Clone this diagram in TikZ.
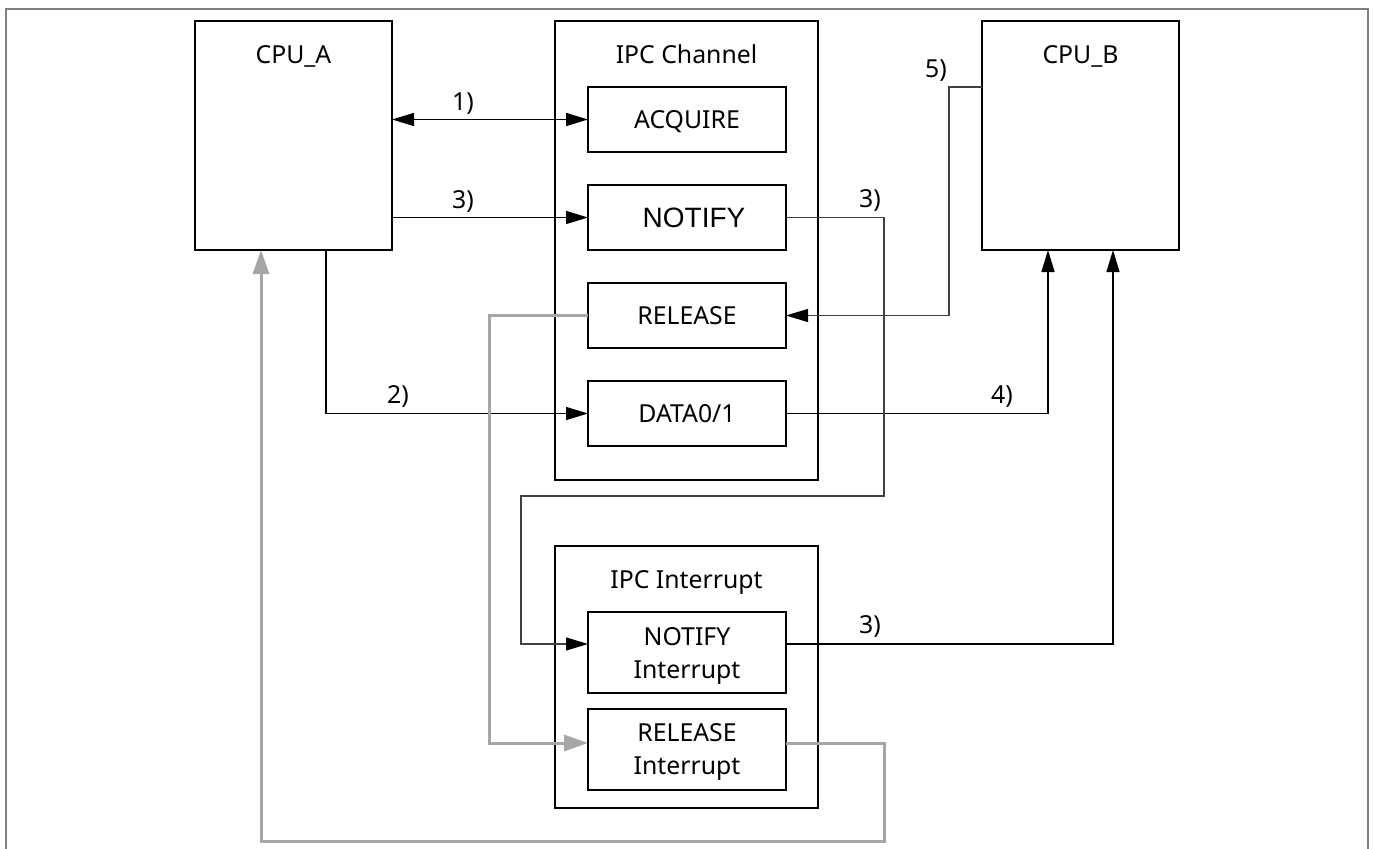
\documentclass[tikz,border=0pt]{standalone}
\usepackage{fontspec}
\setmainfont{Noto Sans}
\newfontfamily\arialfont{Liberation Sans}
\usetikzlibrary{positioning,arrows.meta,calc}
\definecolor{framegray}{HTML}{808080}
\definecolor{wiregray}{HTML}{A6A6A6}
\definecolor{darkwire}{HTML}{404040}

\begin{document}
\begin{tikzpicture}[x=0.5pt,y=-0.5pt,>={Triangle[length=11pt,width=6.5pt]},
  font=\fontsize{12.4}{16.5}\selectfont,
  every node/.style={inner sep=0pt,outer sep=0pt},
  cpu/.style={draw,line width=1pt,minimum width=98.5pt,minimum height=114.5pt},
  block/.style={draw,line width=1pt,minimum width=131.5pt},
  reg/.style={draw,line width=0.7pt,minimum width=99pt,minimum height=32.5pt,
    text depth=0pt,align=center},
  title/.style={anchor=base},
  tag/.style={anchor=base},
  wire/.style={line width=0.7pt},
  thin wire/.style={line width=0.6pt,draw=darkwire,>={Triangle[length=11pt,width=6.5pt,color=black]}},
  grey wire/.style={line width=1.5pt,draw=wiregray,>={Triangle[length=12pt,width=8pt]}}]
  \useasboundingbox (0,0) rectangle (1373,848);
  \draw[framegray,line width=1pt] (6,852) |- (1368,9) -- (1368,852);

  \node[cpu] (cpua) at (293.5,135.5) {};
  \node[cpu] (cpub) at (1080.5,135.5) {};
  \node[block,minimum height=229.5pt] (chan) at (686.5,250.5) {};
  \node[block,minimum height=131pt] (intr) at (686.5,677) {};
  \node[title] (cpua-t) at ($(cpua.north)+(0,42)$) {CPU\_A};
  \node[title] (cpub-t) at ($(cpub.north)+(0,42)$) {CPU\_B};
  \node[title] (chan-t) at ($(chan.north)+(0,42)$) {IPC Channel};
  \node[title] (intr-t) at ($(intr.north)+(0,42)$) {IPC Interrupt};

  \node[reg] (acq) at (687,119.5) {ACQUIRE};
  \node[reg,below=16.5pt of acq,font=\arialfont\fontsize{14}{16}\selectfont] (ntf) {\hspace*{7pt}NOTIFY};
  \node[reg,below=16.5pt of ntf] (rel) {RELEASE};
  \node[reg,below=16.5pt of rel] (dat) {DATA0/1};
  \node[reg,minimum height=40.5pt] (nint) at (687,652.5) {NOTIFY\\Interrupt};
  \node[reg,minimum height=40.5pt,below=8pt of nint] (rint) {RELEASE\\Interrupt};

  \node[tag] (t1) at (463,110) {1)};
  \node[tag] (t2) at (398,403) {2)};
  \node[tag] (t3a) at (463,208) {3)};
  \node[tag] (t3b) at (870,207) {3)};
  \node[tag] (t3c) at (870,633) {3)};
  \node[tag] (t4) at (1002,403) {4)};
  \node[tag] (t5) at (936,77) {5)};

  \coordinate (nint-in) at ($(nint.west)+(0,-8.5)$);
  \coordinate (nint-out) at ($(nint.east)+(0,-8.5)$);
  \coordinate (rint-in) at ($(rint.west)+(0,-6.5)$);
  \coordinate (rint-out) at ($(rint.east)+(0,-6.5)$);

  \draw[wire,<->] (cpua.east |- acq.west) -- (acq.west);
  \draw[wire,->] (cpua.east |- ntf.west) -- (ntf.west);
  \draw[wire,->] ($(cpua.south)+(32.5,0)$) |- (dat.west);
  \draw[wire,->] (dat.east) -| ($(cpub.south)+(-32.5,0)$);
  \draw[wire,->] (nint-out) -| ($(cpub.south)+(32.5,0)$);
  \draw[thin wire,->] ($(cpub.west)+(0,-48.5)$) -| ($(rel.east)+(163,0)$) -- (rel.east);
  \draw[thin wire,->] (ntf.east) -| (884,496) -| (521,644) -- (nint-in);
  \draw[grey wire,->] (rel.west) -- ++(-99,0) |- (rint-in);
  \draw[grey wire,->] (rint-out) -| (884,841) -| ($(cpua.south)+(-32.5,0)$);
\end{tikzpicture}
\end{document}
